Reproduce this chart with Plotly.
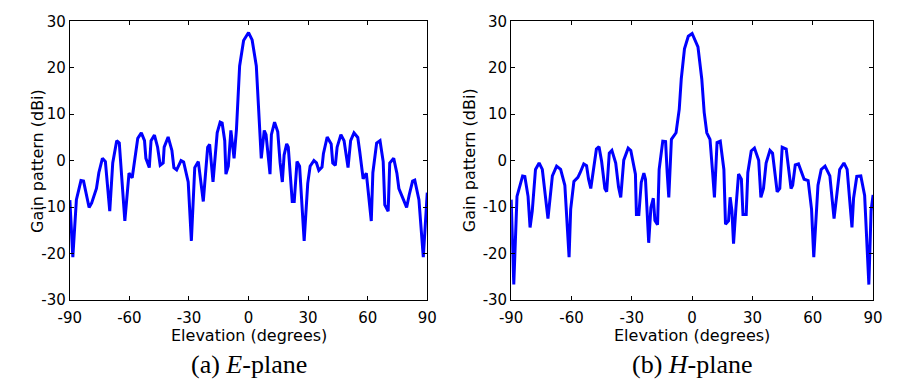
import plotly.graph_objects as go
from plotly.subplots import make_subplots

# E-plane pattern (elevation deg, gain dBi)
e_elev = [-90, -88.5, -86.7, -84.4, -83.1, -80.3, -79.0, -76.6, -75.4, -73.6, -72.1, -69.9, -68.4,
          -66.4, -65.1, -62.3, -60.2, -58.6, -55.8, -54.0, -52.4, -51.7, -50.0, -49.1, -47.4,
          -45.8, -44.5, -43.0, -42.5, -40.5, -38.6, -37.6, -36.2, -34.0, -32.7, -30.4, -28.8,
          -27.1, -25.3, -22.8, -20.6, -19.6, -17.9, -15.8, -14.3, -13.3, -12.0, -11.4, -10.2,
          -8.9, -7.3, -6.1, -4.5, -2.5, 0.0, 1.8, 3.9, 5.0, 6.4, 7.9, 8.8, 10.8, 11.5, 13.1,
          14.7, 15.9, 17.0, 17.9, 19.2, 20.0, 22.0, 23.0, 24.4, 25.7, 28.0, 29.8, 31.0, 32.9,
          34.2, 35.4, 37.0, 37.7, 39.6, 41.6, 42.4, 43.7, 44.6, 46.5, 48.1, 50.1, 51.4, 53.1,
          55.0, 56.0, 57.7, 59.3, 61.8, 62.6, 64.5, 66.2, 67.8, 68.6, 70.3, 71.1, 73.1, 74.7,
          75.7, 78.0, 79.6, 80.9, 82.6, 83.7, 85.8, 88.0, 89.1, 90.0]
e_gain = [-8.5, -20.8, -8.4, -4.3, -4.4, -10.1, -9.1, -6.0, -2.6, 0.5, -0.2, -10.9, -0.5,
          4.3, 3.8, -13.0, -2.7, -3.7, 4.8, 6.0, 4.3, 0.5, -1.5, 4.3, 5.5,
          2.9, -1.0, -0.5, 2.9, 5.1, 2.2, -1.5, -2.0, 0.0, -0.3, -4.6, -17.3,
          -1.5, -0.2, -8.8, 2.9, 3.5, -4.6, 6.0, 8.3, 8.1, 4.3, -2.9, -1.2,
          6.5, 0.5, 6.7, 20.4, 25.9, 27.6, 26.0, 20.4, 12.2, 0.5, 6.5, 5.6, -2.9, 5.6, 8.3,
          6.2, -0.5, -4.6, 1.2, 3.6, 2.9, -8.8, -8.8, -0.2, -1.2, -17.3, -4.9, -1.2, 0.0,
          -0.5, -2.1, -1.4, 1.5, 5.1, 3.6, -0.5, -1.0, 2.9, 5.6, 4.3, -1.5, 4.3, 6.0,
          5.0, 1.9, -3.9, -2.7, -13.0, -2.6, 3.8, 4.3, -0.2, -9.5, -10.9, -0.5, 0.5, -2.7,
          -6.0, -8.4, -10.1, -7.4, -4.4, -4.2, -8.4, -20.8, -11.9, -6.9]

# H-plane pattern (elevation deg, gain dBi)
h_elev = [-90, -88.7, -87.1, -85.5, -84.3, -83.2, -81.6, -80.6, -79.5, -77.9, -76.1, -74.5, -73.0,
          -71.7, -69.5, -67.4, -65.4, -63.3, -61.2, -60.4, -58.8, -56.8, -55.7, -53.9, -52.5,
          -51.5, -50.4, -49.3, -47.6, -46.3, -45.0, -43.4, -42.5, -41.2, -39.9, -38.0, -36.6,
          -35.5, -34.0, -31.8, -30.5, -28.2, -27.7, -26.5, -25.3, -24.0, -23.2, -21.6, -20.5,
          -19.3, -18.5, -17.2, -16.4, -14.6, -13.2, -12.4, -11.6, -10.3, -8.0, -6.4, -5.4,
          -3.8, -1.9, 0.0, 2.9, 4.8, 6.0, 7.3, 8.9, 10.2, 11.1, 12.4, 14.0, 15.8, 16.6, 18.1,
          18.9, 19.8, 20.6, 21.8, 23.1, 24.5, 25.3, 26.9, 27.7, 29.4, 31.0, 33.1, 34.2, 35.5,
          36.8, 38.7, 40.0, 42.3, 43.6, 44.8, 46.8, 49.2, 50.0, 51.3, 52.9, 55.7, 57.7, 59.4,
          60.5, 62.6, 64.2, 66.1, 68.5, 70.6, 71.9, 73.4, 75.5, 77.1, 79.5, 80.3, 81.9, 83.9,
          85.8, 87.9, 89.0, 90.0]
h_gain = [-8.4, -26.7, -7.7, -5.3, -3.3, -3.4, -7.7, -14.4, -10.8, -1.9, -0.5, -1.9, -8.1,
          -12.5, -3.3, -1.2, -1.9, -5.3, -20.8, -10.5, -4.5, -3.6, -2.6, -0.7, -1.1,
          -4.0, -6.0, -2.9, 2.5, 3.0, -0.2, -6.0, -6.7, 1.6, 2.2, -0.5, -5.7,
          -7.9, 0.1, 2.7, 2.2, -2.9, -11.6, -11.6, -4.7, -2.7, -4.0, -17.7, -10.1,
          -8.1, -12.9, -13.8, -1.9, 4.2, 4.1, -2.6, -7.9, 4.6, 6.0, 11.1, 17.6,
          24.1, 26.8, 27.4, 24.5, 17.6, 10.4, 6.0, 4.6, -2.6, -7.9, 3.9, 4.2, -1.9, -13.7, -13.0,
          -7.9, -10.8, -17.9, -10.1, -2.9, -4.0, -11.6, -11.6, -2.6, 2.1, 2.7, 0.1, -7.9, -6.0,
          -0.5, 2.2, 1.6, -6.7, -6.0, 2.9, 2.5, -6.0, -5.3, -0.9, -0.7, -4.0, -4.3, -10.5,
          -20.8, -5.3, -1.9, -1.2, -3.3, -12.5, -8.1, -1.9, -0.5, -1.9, -14.4, -8.1, -3.4, -3.3,
          -7.5, -26.7, -10.8, -7.4]

x_ticks = [-90, -60, -30, 0, 30, 60, 90]
y_ticks = [-30, -20, -10, 0, 10, 20, 30]
x_title = "Elevation (degrees)"
y_title = "Gain pattern (dBi)"
captions = ["(a) <i>E</i>-plane", "(b) <i>H</i>-plane"]

W, H = 898, 389
fig = make_subplots(rows=1, cols=2)
fig.add_trace(go.Scatter(x=e_elev, y=e_gain, mode="lines",
                         line=dict(color="#0000ff", width=3)), row=1, col=1)
fig.add_trace(go.Scatter(x=h_elev, y=h_gain, mode="lines",
                         line=dict(color="#0000ff", width=3)), row=1, col=2)

tick_font = dict(family="DejaVu Sans, sans-serif", size=15, color="black")
title_font = dict(family="DejaVu Sans, sans-serif", size=16, color="black")
cap_font = dict(family="Liberation Serif, Times New Roman, serif", size=26, color="black")
y_dom = [1 - 305 / H, 1 - 13 / H]
x_doms = [[59.3 / W, 425.7 / W], [511.7 / W, 882.7 / W]]
ytitle_x = [26, 469]

for i, xd in enumerate(x_doms):
    xa = "xaxis" if i == 0 else "xaxis2"
    ya = "yaxis" if i == 0 else "yaxis2"
    fig.layout[xa].update(domain=xd, range=[-90, 90], tickvals=x_ticks,
                          ticktext=[str(v) for v in x_ticks],
                          ticks="inside", ticklen=4, tickcolor="black",
                          showline=True, linecolor="black", linewidth=1, mirror="ticks",
                          showgrid=False, zeroline=False, tickfont=tick_font,
                          ticklabelstandoff=4)
    fig.layout[ya].update(domain=y_dom, range=[-30, 30], tickvals=y_ticks,
                          ticktext=[str(v) for v in y_ticks],
                          ticks="inside", ticklen=4, tickcolor="black",
                          showline=True, linecolor="black", linewidth=1, mirror="ticks",
                          showgrid=False, zeroline=False, tickfont=tick_font)
    cx = (xd[0] + xd[1]) / 2
    fig.add_annotation(text=x_title, xref="paper", yref="paper", x=cx, y=1 - 342 / H,
                       xanchor="center", yanchor="middle", showarrow=False, font=title_font)
    fig.add_annotation(text=y_title, xref="paper", yref="paper", x=ytitle_x[i] / W,
                       y=(y_dom[0] + y_dom[1]) / 2, textangle=-90,
                       xanchor="center", yanchor="middle", showarrow=False, font=title_font)
    fig.add_annotation(text=captions[i], xref="paper", yref="paper", x=cx, y=1 - 373 / H,
                       xanchor="center", yanchor="middle", showarrow=False, font=cap_font)

fig.update_layout(width=W, height=H, margin=dict(l=0, r=0, t=0, b=0),
                  paper_bgcolor="white", plot_bgcolor="white", showlegend=False)
fig.write_html("out.html")
